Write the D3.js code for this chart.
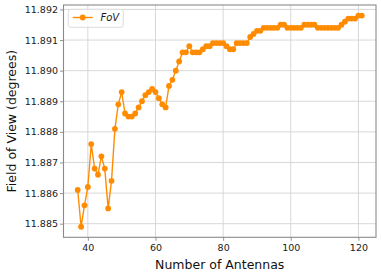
<!DOCTYPE html>
<html lang="en">
<head>
    <meta charset="UTF-8">
    <title>Field of View vs Number of Antennas</title>
    <style>
        body {
            margin: 0;
            background: #fff;
        }
        svg {
            display: block;
            font-family: "DejaVu Sans", sans-serif;
        }
        .grid line {
            stroke: #d4d4d4;
            stroke-width: 0.9px;
        }
        .tick-label {
            font-size: 9.5px;
            fill: #1a1a1a;
        }
        .axis-label {
            font-size: 12.5px;
            fill: #111;
        }
    </style>
</head>
<body>
    <svg width="381" height="277"></svg>
    <script src="https://d3js.org/d3.v7.min.js"></script>
    <script>

// data
const antennas = [37, 38, 39, 40, 41, 42, 43, 44, 45, 46, 47, 48, 49, 50, 51, 52, 53, 54, 55, 56,
    57, 58, 59, 60, 61, 62, 63, 64, 65, 66, 67, 68, 69, 70, 71, 72, 73, 74, 75, 76,
    77, 78, 79, 80, 81, 82, 83, 84, 85, 86, 87, 88, 89, 90, 91, 92, 93, 94, 95, 96,
    97, 98, 99, 100, 101, 102, 103, 104, 105, 106, 107, 108, 109, 110, 111, 112, 113, 114, 115, 116,
    117, 118, 119, 120, 121];

const fov = [11.8861, 11.8849, 11.8856, 11.8862, 11.8876, 11.8868, 11.8866, 11.8872, 11.8868, 11.8855,
    11.8864, 11.8881, 11.8889, 11.8893, 11.8886, 11.8885, 11.8885, 11.8886, 11.8888, 11.8890,
    11.8892, 11.8893, 11.8894, 11.8893, 11.8891, 11.8889, 11.8888, 11.8895, 11.8897, 11.8900,
    11.8903, 11.8906, 11.8906, 11.8908, 11.8906, 11.8906, 11.8906, 11.8907, 11.8908, 11.8908,
    11.8909, 11.8909, 11.8909, 11.8909, 11.8908, 11.8907, 11.8907, 11.8909, 11.8909, 11.8909,
    11.8909, 11.8911, 11.8912, 11.8913, 11.8913, 11.8914, 11.8914, 11.8914, 11.8914, 11.8914,
    11.8915, 11.8915, 11.8914, 11.8914, 11.8914, 11.8914, 11.8914, 11.8915, 11.8915, 11.8915,
    11.8915, 11.8914, 11.8914, 11.8914, 11.8914, 11.8914, 11.8914, 11.8914, 11.8915, 11.8916,
    11.8917, 11.8917, 11.8917, 11.8918, 11.8918];

const xTicks = [40, 60, 80, 100, 120];
const yTicks = [11.885, 11.886, 11.887, 11.888, 11.889, 11.890, 11.891, 11.892];
const seriesName = "FoV";

const data = antennas.map((a, i) => ({ x: a, y: fov[i] }));

const svg = d3.select("svg");

// plot area
const plotLeft = 63.5, plotRight = 376, plotTop = 5, plotBottom = 237.3;
const orange = "#ff8c00";

// matplotlib style 5% margins
function padded(ext) {
    const m = (ext[1] - ext[0]) * 0.05;
    return [ext[0] - m, ext[1] + m];
}

const x = d3.scaleLinear().domain(padded(d3.extent(antennas))).range([plotLeft, plotRight]);
const y = d3.scaleLinear().domain(padded(d3.extent(fov))).range([plotBottom, plotTop]);

// grid
const grid = svg.append("g").attr("class", "grid");
grid.selectAll(".gx").data(xTicks).enter().append("line")
    .attr("x1", d => x(d)).attr("x2", d => x(d))
    .attr("y1", plotTop).attr("y2", plotBottom);
grid.selectAll(".gy").data(yTicks).enter().append("line")
    .attr("y1", d => y(d)).attr("y2", d => y(d))
    .attr("x1", plotLeft).attr("x2", plotRight);

// axes
const xAxis = svg.append("g")
    .attr("transform", `translate(0,${plotBottom})`)
    .call(d3.axisBottom(x).tickValues(xTicks).tickSize(3.5).tickPadding(3).tickFormat(d3.format("d")));
const yAxis = svg.append("g")
    .attr("transform", `translate(${plotLeft},0)`)
    .call(d3.axisLeft(y).tickValues(yTicks).tickSize(3.5).tickPadding(2).tickFormat(d3.format(".3f")));

[xAxis, yAxis].forEach(g => {
    g.attr("font-family", null).attr("font-size", null);
    g.select(".domain").remove();
    g.selectAll(".tick line").attr("stroke", "#888").attr("stroke-width", 0.9);
    g.selectAll(".tick text").attr("class", "tick-label");
});

// frame
svg.append("rect")
    .attr("x", plotLeft).attr("y", plotTop)
    .attr("width", plotRight - plotLeft).attr("height", plotBottom - plotTop)
    .attr("fill", "none")
    .attr("stroke", "#8a8a8a")
    .attr("stroke-width", 1.1);

// series
const line = d3.line().x(d => x(d.x)).y(d => y(d.y));

svg.append("path")
    .datum(data)
    .attr("fill", "none")
    .attr("stroke", orange)
    .attr("stroke-width", 1.4)
    .attr("d", line);

svg.append("g").selectAll("circle")
    .data(data)
    .enter().append("circle")
    .attr("cx", d => x(d.x))
    .attr("cy", d => y(d.y))
    .attr("r", 2.9)
    .attr("fill", orange);

// legend
const legend = svg.append("g");
legend.append("rect")
    .attr("x", 68.3).attr("y", 9.3)
    .attr("width", 55).attr("height", 18)
    .attr("rx", 2.5)
    .attr("fill", "#fff")
    .attr("fill-opacity", 0.85)
    .attr("stroke", "#d8d8d8")
    .attr("stroke-width", 0.9);
legend.append("line")
    .attr("x1", 72.7).attr("x2", 92.7)
    .attr("y1", 17.5).attr("y2", 17.5)
    .attr("stroke", orange)
    .attr("stroke-width", 1.4);
legend.append("circle")
    .attr("cx", 82.7).attr("cy", 17.5).attr("r", 2.9)
    .attr("fill", orange);
legend.append("text")
    .attr("x", 100.5).attr("y", 21.2)
    .attr("font-size", 10)
    .attr("font-style", "italic")
    .attr("fill", "#1a1a1a")
    .text(seriesName);

// axis labels
svg.append("text")
    .attr("class", "axis-label")
    .attr("x", (plotLeft + plotRight) / 2).attr("y", 269)
    .attr("text-anchor", "middle")
    .text("Number of Antennas");

svg.append("text")
    .attr("class", "axis-label")
    .attr("transform", `translate(15.5,${(plotTop + plotBottom) / 2}) rotate(-90)`)
    .attr("text-anchor", "middle")
    .text("Field of View (degrees)");
    </script>
</body>
</html>
